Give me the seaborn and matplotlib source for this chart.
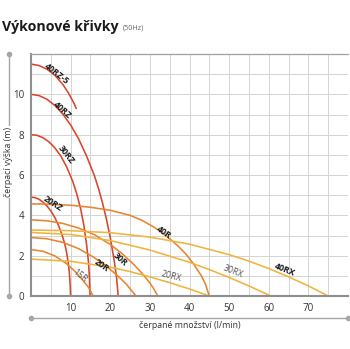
import matplotlib
matplotlib.use("Agg")
import matplotlib.pyplot as plt
from matplotlib.lines import Line2D
from matplotlib.transforms import offset_copy
import numpy as np
import seaborn as sns

sns.set_theme(style="white")
plt.rcParams['font.family'] = ['Open Sans', 'DejaVu Sans']

# ---- data (flow l/min, head m) ----
x_40rz5 = [0, 2, 4, 6, 8, 9.5, 11, 11.4]
y_40rz5 = [11.5, 11.43, 11.25, 10.95, 10.5, 10.05, 9.5, 9.3]
x_40rz = [0, 2, 4, 6, 8, 10, 12, 14, 16, 17, 18, 19, 20, 21, 21.6, 22]
y_40rz = [10, 9.94, 9.76, 9.45, 9.03, 8.48, 7.8, 6.95, 5.97, 5.35, 4.65, 3.85, 2.9, 1.75, 0.9, 0]
x_30rz = [0, 1.5, 3, 4.5, 6, 7.5, 9, 10.5, 11.5, 12.5, 13.3, 14, 14.5, 14.75, 14.9]
y_30rz = [8, 7.97, 7.85, 7.65, 7.35, 6.95, 6.4, 5.7, 5.1, 4.35, 3.55, 2.6, 1.7, 0.9, 0]
x_20rz = [0, 1, 2, 3, 4, 5, 6, 7, 7.8, 8.5, 9, 9.4, 9.7, 9.9, 10]
y_20rz = [4.9, 4.88, 4.8, 4.66, 4.47, 4.22, 3.9, 3.47, 3.05, 2.6, 2.15, 1.65, 1.1, 0.5, 0]

x_40r = [0, 5, 10, 15, 20, 25, 28, 31, 34, 37, 39, 41, 43, 44, 45]
y_40r = [4.57, 4.55, 4.5, 4.4, 4.25, 4.0, 3.75, 3.42, 3.0, 2.5, 2.1, 1.6, 1.0, 0.6, 0]
x_30r = [0, 4, 8, 12, 16, 20, 23, 26, 28, 30, 31, 32]
y_30r = [3.78, 3.73, 3.6, 3.37, 3.04, 2.56, 2.1, 1.55, 1.13, 0.65, 0.35, 0]
x_20r = [0, 4, 8, 12, 16, 19, 22, 24, 26.5]
y_20r = [2.9, 2.84, 2.66, 2.35, 1.9, 1.48, 0.98, 0.6, 0]
x_15r = [0, 3, 6, 9, 11, 13, 14.5, 15.7]
y_15r = [2.3, 2.22, 1.99, 1.6, 1.24, 0.8, 0.43, 0]

x_40rx = [0, 10, 20, 30, 40, 50, 55, 60, 65, 70, 75]
y_40rx = [3.27, 3.24, 3.14, 2.92, 2.57, 2.05, 1.73, 1.36, 0.95, 0.5, 0]
x_30rx = [0, 10, 20, 30, 40, 45, 50, 55, 60.5]
y_30rx = [3.15, 3.05, 2.75, 2.28, 1.67, 1.31, 0.92, 0.5, 0]
x_20rx = [0, 10, 20, 25, 30, 35, 40, 45]
y_20rx = [1.83, 1.72, 1.43, 1.21, 0.95, 0.66, 0.35, 0]

x_ticks = [10, 20, 30, 40, 50, 60, 70]
y_ticks = [0, 2, 4, 6, 8, 10]

RED, ORANGE, YELLOW = "#d9452b", "#e8852e", "#f2b33c"
curves = [
    (x_40rz5, y_40rz5, RED), (x_40rz, y_40rz, RED),
    (x_30rz, y_30rz, RED), (x_20rz, y_20rz, RED),
    (x_40r, y_40r, ORANGE), (x_30r, y_30r, ORANGE),
    (x_20r, y_20r, ORANGE), (x_15r, y_15r, ORANGE),
    (x_40rx, y_40rx, YELLOW), (x_30rx, y_30rx, YELLOW),
    (x_20rx, y_20rx, YELLOW),
]

# curve names, label positions (data coords), rotation, bold, side offset (px)
labels = [
    ("40RZ-5", 6.1, 10.9, -38, True, 2.5),
    ("40RZ", 7.3, 9.1, -42, True, 3),
    ("30RZ", 8.2, 6.9, -52, True, 3.5),
    ("20RZ", 5.0, 4.45, -33, True, 3.5),
    ("40R", 33.0, 3.0, -35, True, 3.5),
    ("30R", 22.5, 1.8, -42, True, 0),
    ("20R", 17.8, 1.5, -35, True, 0),
    ("15R", 12.4, 1.0, -38, False, 0),
    ("20RX", 35.5, 0.96, -15, False, 0),
    ("30RX", 51.1, 1.22, -22, False, 0),
    ("40RX", 64.1, 1.3, -22, True, 0),
]

W, H = 350, 349
fig = plt.figure(figsize=(W / 100, H / 100), dpi=100)
ax = fig.add_axes([31 / W, (H - 296) / H, 317 / W, 242 / H])

for xs, ys, c in curves:
    sns.lineplot(x=xs, y=ys, ax=ax, color=c, lw=1.15, sort=False, estimator=None)

ax.set_xlim(0, 80)
ax.set_ylim(0, 12)
ax.set_xticks(list(range(0, 81, 5)))
ax.set_xticklabels([str(v) if v in x_ticks else "" for v in range(0, 81, 5)])
ax.set_yticks(list(range(0, 13)))
ax.set_yticklabels([str(v) if v in y_ticks else "" for v in range(0, 13)])
ax.tick_params(length=0, labelsize=7, colors="#333333", pad=5)
ax.grid(True, color="#d4d4d4", lw=0.7)
ax.set_axisbelow(True)
for s in ["left", "bottom"]:
    ax.spines[s].set_color("#8f8f8f")
    ax.spines[s].set_linewidth(1.5)
ax.spines["top"].set_color("#a0a0a0")
ax.spines["top"].set_linewidth(0.9)
ax.spines["right"].set_visible(False)

for txt, lx, ly, rot, bold, off in labels:
    th = np.radians(rot)
    tr = offset_copy(ax.transData, fig=fig, x=-np.sin(th) * off, y=np.cos(th) * off,
                     units="dots")
    ax.text(lx, ly, txt, rotation=rot, ha="center", va="center", transform=tr,
            fontsize=6.3, fontweight="bold" if bold else "normal",
            color="#1a1a1a" if bold else "#555555", rotation_mode="anchor")

# decorative axis-title lines
fig.add_artist(Line2D([9 / W, 9 / W], [(H - 296) / H, (H - 54) / H], color="#a6a6a6", lw=1.0,
                      marker="o", markersize=3, markevery=[0, 1]))
fig.text(9 / W, (H - 162) / H, "čerpací výška (m)", rotation=90, ha="center", va="center",
         fontsize=6.3, color="#333333",
         bbox=dict(facecolor="white", edgecolor="none", pad=1.0))
fig.add_artist(Line2D([31 / W, 348 / W], [(H - 318) / H, (H - 318) / H], color="#a6a6a6", lw=1.0,
                      marker="o", markersize=3, markevery=[0, 1]))
fig.text(190 / W, (H - 325) / H, "čerpané množství (l/min)", ha="center", va="center",
         fontsize=6.3, color="#333333")

fig.text(2 / W, (H - 27) / H, "Výkonové křivky", ha="left", va="center",
         fontsize=10.2, fontweight="bold", color="#1a1a1a")
fig.text(123 / W, (H - 28) / H, "(50Hz)", ha="left", va="center",
         fontsize=5.2, color="#666666")

fig.savefig("out.png", dpi=100)
